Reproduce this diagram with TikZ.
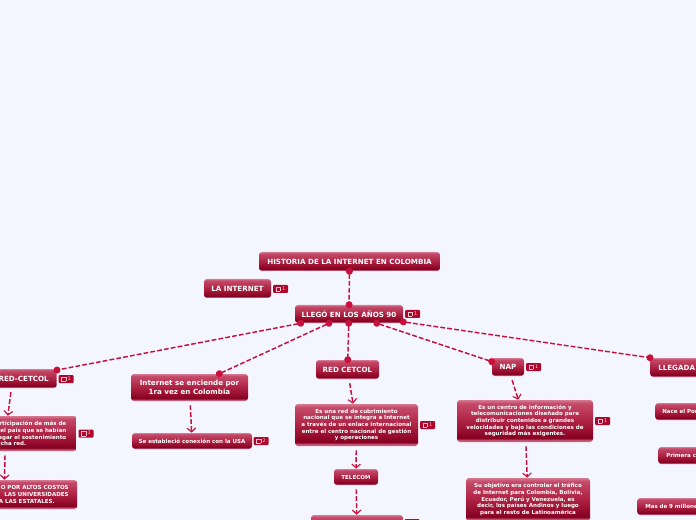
\documentclass[tikz,border=0pt]{standalone}
\usepackage{fontspec}
\setmainfont{DejaVu Sans}
\usetikzlibrary{arrows.meta}
\newdimen\px \px=.75pt
\definecolor{pagebg}{HTML}{F4F6FF}
\definecolor{linkred}{HTML}{C8103C}
\definecolor{badgered}{HTML}{B0062C}
\definecolor{badgeink}{HTML}{F4C8D2}
\pgfdeclareverticalshading{mmshade}{100bp}{
 rgb(0bp)=(.78,.36,.47);
 rgb(25bp)=(.78,.36,.47);
 rgb(27bp)=(.78,.38,.49);
 rgb(29.5bp)=(.53,.0,.13);
 rgb(50bp)=(.68,.13,.26);
 rgb(71bp)=(.77,.29,.41);
 rgb(75bp)=(.84,.47,.56);
 rgb(100bp)=(.84,.47,.56)}
\tikzset{
 mmnode/.style={shape=rectangle, rounded corners=2.25pt, shading=mmshade, shading angle=0,
   text=white, font=\bfseries\fontsize{4.15}{5.0}\selectfont, align=center, inner sep=0pt},
 mmbig/.style={mmnode, font=\bfseries\fontsize{5.35}{6.6}\selectfont},
 leftcut/.style={anchor=east, align=right, inner ysep=0pt},
 rightcut/.style={anchor=west, align=left, inner ysep=0pt},
 badge/.style={shape=rectangle, rounded corners=.75pt, fill=badgered, text=badgeink, inner sep=0pt,
   minimum width=11.25pt, minimum height=6pt, font=\fontsize{3.8}{4}\selectfont},
 link/.style={draw=linkred, line width=1.1pt, dash pattern=on 3.6pt off 1.6pt,
   {Circle[length=5.2pt,width=5.2pt,fill=linkred]}-{Circle[length=5.2pt,width=5.2pt,fill=linkred]},
   shorten <=-2.6pt, shorten >=-2.6pt},
 arrowlink/.style={draw=linkred, line width=1.1pt, dash pattern=on 3.6pt off 1.6pt,
   -{Straight Barb[length=3pt,width=6.5pt,line width=.85pt]}, shorten <=3pt}
}
\newcommand{\bdgtxt}[1]{{\fboxsep=.8pt\fboxrule=.3pt\fbox{\phantom{\rule{1.4pt}{1.4pt}}}}\kern1.2pt #1}
\begin{document}
\begin{tikzpicture}[x=.75pt,y=-.75pt]
\useasboundingbox (0,0) rectangle (696,520);
\fill[pagebg] (0,0) rectangle (696,520);
\clip (0,0) rectangle (696,520);

% central column
\node[mmbig, minimum width=181\px, minimum height=19\px] (title) at (349.5,261.5) {HISTORIA DE LA INTERNET EN COLOMBIA};
\node[mmbig, minimum width=67\px, minimum height=19\px] (laint) at (237.5,288.5) {LA INTERNET};
\node[mmbig, minimum width=108\px, minimum height=18\px] (llego) at (349,314) {LLEGÓ EN LOS AÑOS 90};

% left cut branch
\node[mmbig, leftcut, inner xsep=8\px, text width=72\px, minimum height=19\px] (cetcola) at (57,378.5) {RED-CETCOL};
\node[mmnode, leftcut, inner xsep=10.5\px, text width=121.6\px, minimum height=35\px] (part) at (77,433.5)
 {rticipación de más de\\del país que se habían\\agar el sostenimiento\\icha red.\hspace*{40\px}};
\node[mmnode, leftcut, inner xsep=8.5\px, text width=129\px, minimum height=29\px] (altos) at (77.5,494.5)
 {O POR ALTOS COSTOS\\LAS UNIVERSIDADES\\A LAS ESTATALES.\hspace*{14\px}};

% Internet branch
\node[mmbig, minimum width=117\px, minimum height=27\px] (enciende) at (189.5,387.5) {Internet se enciende por\\1ra vez en Colombia};
\node[mmnode, minimum width=120\px, minimum height=16\px] (usa) at (192,441) {Se estableció conexión con la USA};

% RED CETCOL branch
\node[mmbig, minimum width=63\px, minimum height=19\px] (cetcol) at (347.5,369.5) {RED CETCOL};
\node[mmnode, minimum width=123\px, minimum height=42\px] (esuna) at (356.5,425)
 {Es una red de cubrimiento\\nacional que se integra a Internet\\a través de un enlace internacional\\entre el centro nacional de gestión\\y operaciones};
\node[mmnode, minimum width=44\px, minimum height=16\px] (telecom) at (356,477) {TELECOM};
\node[mmnode, minimum width=92\px, minimum height=30\px] (bajo) at (357,530) {};

% NAP branch
\node[mmbig, minimum width=32\px, minimum height=18\px] (nap) at (508,367) {NAP};
\node[mmnode, minimum width=136\px, minimum height=42\px] (esun) at (525,421)
 {Es un centro de información y\\telecomunicaciones diseñado para\\distribuir contenidos a grandes\\velocidades y bajo las condiciones de\\seguridad más exigentes.};
\node[mmnode, minimum width=124\px, minimum height=43\px] (objetivo) at (528,499.5)
 {Su objetivo era controlar el tráfico\\de Internet para Colombia, Bolivia,\\Ecuador, Perú y Venezuela, es\\decir, los países Andinos y luego\\para el resto de Latinoamérica};

% right cut branch
\node[mmbig, rightcut, inner xsep=8\px, text width=118\px, minimum height=19\px] (llegada) at (650,367.5) {LLEGADA};
\node[mmnode, rightcut, inner xsep=7\px, text width=110\px, minimum height=17\px] (nace) at (655,411.5) {Nace el Por};
\node[mmnode, rightcut, inner xsep=8\px, text width=110\px, minimum height=17\px] (primera) at (658,455.5) {Primera c};
\node[mmnode, rightcut, inner xsep=8\px, text width=110\px, minimum height=17\px] (millones) at (637,506.5) {Mas de 9 millone};

% badges
\node[badge] (b1) at (280.5,289) {\bdgtxt{1}};
\node[badge] (b2) at (412.5,314) {\bdgtxt{1}};
\node[badge] (b3) at (66,379) {\bdgtxt{1}};
\node[badge] (b4) at (86,433.5) {\bdgtxt{1}};
\node[badge] (b5) at (261,441) {\bdgtxt{2}};
\node[badge] (b6) at (427.5,425) {\bdgtxt{1}};
\node[badge] (b7) at (412,523) {\bdgtxt{1}};
\node[badge] (b8) at (533.5,367) {\bdgtxt{1}};
\node[badge] (b9) at (602.5,421) {\bdgtxt{1}};

% connectors
\draw[link] (title) -- (llego);
\draw[link] (llego) -- (cetcola);
\draw[link] (llego) -- (enciende);
\draw[link] (llego) -- (cetcol);
\draw[link] (llego) -- (nap);
\draw[link] (llego) -- (llegada);
\draw[arrowlink] (cetcola) -- (part);
\draw[arrowlink] (part) -- (altos);
\draw[arrowlink] (enciende) -- (usa);
\draw[arrowlink] (cetcol) -- (esuna);
\draw[arrowlink] (esuna) -- (telecom);
\draw[arrowlink] (telecom) -- (bajo);
\draw[arrowlink] (nap) -- (esun);
\draw[arrowlink] (esun) -- (objetivo);
\end{tikzpicture}
\end{document}
